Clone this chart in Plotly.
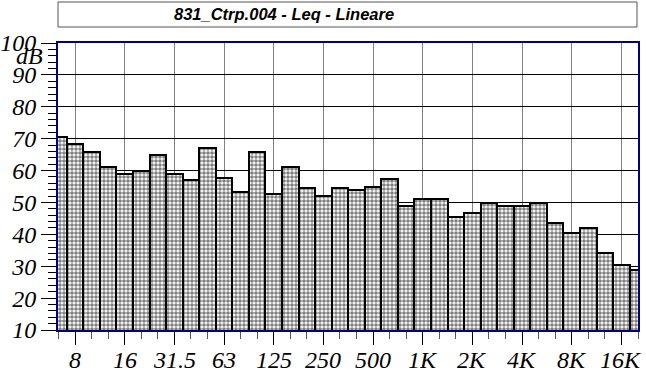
import base64
import plotly.graph_objects as go

# 1/3-octave bands (Hz) and Leq levels (dB)
bands = ["6.3", "8", "10", "12.5", "16", "20", "25", "31.5", "40", "50", "63", "80",
         "100", "125", "160", "200", "250", "315", "400", "500", "630", "800",
         "1K", "1.25K", "1.6K", "2K", "2.5K", "3.15K", "4K", "5K", "6.3K", "8K",
         "10K", "12.5K", "16K", "20K"]
levels = [70.4, 68.2, 65.7, 61.1, 59.0, 59.8, 64.9, 59.0, 57.0, 67.0, 57.7, 53.2,
          65.7, 52.6, 61.1, 54.4, 51.9, 54.4, 53.9, 54.8, 57.3, 49.0,
          51.0, 51.0, 45.4, 46.8, 49.7, 48.9, 48.9, 49.7, 43.4, 40.5,
          42.1, 34.2, 30.4, 28.8]
tick_labels = ["8", "16", "31.5", "63", "125", "250", "500", "1K", "2K", "4K", "8K", "16K"]
y_ticks = [10, 20, 30, 40, 50, 60, 70, 80, 90, 100]
series_name = "831_Ctrp.004 - Leq - Lineare"

xs = list(range(len(bands)))
tick_pos = [bands.index(t) for t in tick_labels]

W, H = 646, 374
L, R, T, B = 58, 8, 43, 44
pw, ph = W - L - R, H - T - B


def px(x):
    return (x - L) / pw


def py(y):
    return (H - B - y) / ph


NAVY = "#000080"
PAT = "#7f7f7f"

fig = go.Figure()
fig.add_trace(go.Bar(
    x=xs, y=levels, width=1.0, name=series_name,
    marker=dict(color="white",
                line=dict(color="black", width=2),
                pattern=dict(shape=".", fgcolor=PAT, bgcolor="white",
                             size=4, solidity=0.65, fillmode="replace")),
    showlegend=False,
))

serif = dict(family="Liberation Serif", size=24, color="black", style="italic")

fig.update_layout(
    width=W, height=H,
    margin=dict(l=L, r=R, t=T, b=B),
    paper_bgcolor="white", plot_bgcolor="white",
    bargap=0,
    xaxis=dict(range=[-0.03, len(bands) - 1], tickmode="array", tickvals=tick_pos,
               showticklabels=False,
               ticks="outside", ticklen=13, tickcolor="black",
               tickwidth=1, showgrid=True, gridcolor="#808080",
               gridwidth=1, showline=True, linecolor=NAVY, linewidth=2, mirror=True,
               zeroline=False, automargin=False,
               minor=dict(tickmode="array", tickvals=xs, ticks="outside", ticklen=7,
                          tickcolor="#555555", tickwidth=1, showgrid=False)),
    yaxis=dict(range=[10, 100], tickmode="array", tickvals=y_ticks,
               ticktext=["<i>%d</i>" % v for v in y_ticks],
               ticks="outside", ticklen=15, tickcolor="black", tickwidth=1,
               tickfont=serif, showgrid=True, gridcolor="black", gridwidth=1,
               showline=True, linecolor=NAVY, linewidth=2, mirror=True,
               zeroline=False, automargin=False,
               minor=dict(tickmode="linear", tick0=10, dtick=2, ticks="outside",
                          ticklen=8, tickcolor="black", tickwidth=1, showgrid=False)),
)

# x tick labels (placed at the band positions on the x axis)
for pos, lab in zip(tick_pos, tick_labels):
    fig.add_annotation(text="<i>%s</i>" % lab, x=pos, xref="x", y=py(360), yref="paper",
                       showarrow=False, xanchor="center", yanchor="middle", font=serif)

# dB unit label
fig.add_annotation(text="<i>dB</i>", x=px(29), y=py(56), xref="paper", yref="paper",
                   showarrow=False, font=serif, xanchor="center", yanchor="middle")

# legend box
fig.add_shape(type="rect", xref="paper", yref="paper",
              x0=px(58), x1=px(637), y0=py(27), y1=py(2),
              line=dict(color="#555555", width=1), fillcolor="white", layer="above")

svg = ("<svg xmlns='http://www.w3.org/2000/svg' width='66' height='20'>"
       "<defs><pattern id='p' width='4' height='4' patternUnits='userSpaceOnUse'>"
       "<rect width='4' height='4' fill='#fff'/>"
       f"<rect width='2' height='2' fill='{PAT}'/>"
       f"<rect x='2' y='2' width='2' height='2' fill='{PAT}'/>"
       "</pattern></defs>"
       "<rect x='1' y='1' width='64' height='18' fill='url(#p)' stroke='#000' stroke-width='2'/>"
       "</svg>")
uri = "data:image/svg+xml;base64," + base64.b64encode(svg.encode()).decode()
fig.add_layout_image(source=uri, xref="paper", yref="paper",
                     x=px(74), y=py(4), sizex=66 / pw, sizey=20 / ph,
                     xanchor="left", yanchor="top", sizing="stretch", layer="above")

fig.add_annotation(text="<b><i>%s</i></b>" % series_name, x=px(172), y=py(14),
                   xref="paper", yref="paper",
                   showarrow=False, xanchor="left", yanchor="middle",
                   font=dict(family="Liberation Sans", size=16.5, color="black"))

fig.write_html("out.html")
